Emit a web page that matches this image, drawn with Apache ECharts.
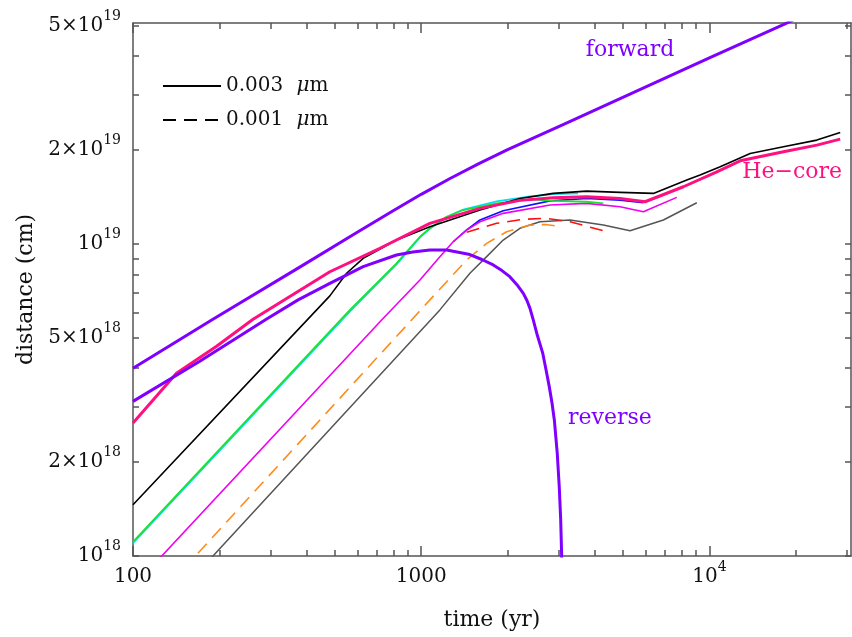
<!DOCTYPE html>
<html><head><meta charset="utf-8">
<script src="https://cdn.jsdelivr.net/npm/echarts@6/dist/echarts.min.js"></script>
<style>html,body{margin:0;padding:0;background:#fff}#c{width:852px;height:637px}</style>
</head><body><div id="c"></div>
<script>
// ---- axis ranges and ticks ----
const X_MIN = 100, X_MAX = 31000;
const Y_MIN = 1e18, Y_MAX = 5.11e19;
const timeTicks = [100, 1000, 10000];
const timeTickLabels = ['100', '1000', '{b|10}{s|4}'];
const timeMinor = [200,300,400,500,600,700,800,900,2000,3000,4000,5000,6000,7000,8000,9000,20000,30000];
const distTicks = [1e18, 2e18, 5e18, 1e19, 2e19, 5e19];
const distTickLabels = ['{b|10}{s|18}','{b|2×10}{s|18}','{b|5×10}{s|18}','{b|10}{s|19}','{b|2×10}{s|19}','{b|5×10}{s|19}'];
const distMinor = [3e18,4e18,6e18,7e18,8e18,9e18,3e19,4e19];
const legendNames = ['0.003 μm', '0.001 μm'];

// ---- series values: [time (yr), distance (cm)] ----
const forward = [[100,4.0e18],[190,5.75e18],[379,8.43e18],[600,1.09e19],[794,1.274e19],[1000,1.443e19],[1259,1.622e19],[1585,1.811e19],[1995,2.006e19],[3162,2.43e19],[10000,3.95e19],[18300,5.08e19],[21000,5.4e19]];
const reverse = [[100,3.13e18],[170,4.20e18],[290,5.74e18],[374,6.62e18],[482,7.48e18],[629,8.46e18],[821,9.22e18],[935,9.43e18],[1072,9.57e18],[1225,9.57e18],[1476,9.25e18],[1624,8.92e18],[1778,8.57e18],[1906,8.22e18],[2030,7.86e18],[2149,7.41e18],[2261,6.95e18],[2328,6.59e18],[2385,6.22e18],[2448,5.71e18],[2532,5.08e18],[2639,4.48e18],[2710,3.96e18],[2782,3.49e18],[2843,3.10e18],[2897,2.73e18],[2965,2.14e18],[3013,1.67e18],[3048,1.31e18],[3072,1.0e18],[3090,0.8e18]];
const heCore = [[100,2.67e18],[141.5,3.85e18],[195,4.7e18],[261,5.74e18],[482,8.15e18],[719,9.69e18],[1072,1.165e19],[1599,1.301e19],[2201,1.38e19],[2872,1.407e19],[3752,1.418e19],[4898,1.40e19],[5981,1.366e19],[8124,1.526e19],[10610,1.704e19],[12785,1.848e19],[18070,1.975e19],[23600,2.075e19],[28440,2.169e19]];
const blackLine = [[100,1.46e18],[482,6.82e18],[551,8.06e18],[629,9.0e18],[821,1.03e19],[1072,1.136e19],[1599,1.285e19],[2201,1.40e19],[2872,1.453e19],[3752,1.478e19],[4898,1.464e19],[6392,1.453e19],[8348,1.603e19],[9284,1.663e19],[10900,1.768e19],[13850,1.951e19],[18070,2.049e19],[23600,2.153e19],[28440,2.279e19]];
const greenLine = [[100,1.11e18],[566,6.15e18],[821,8.67e18],[990,1.055e19],[1072,1.123e19],[1225,1.223e19],[1399,1.285e19],[1827,1.35e19],[2385,1.39e19],[2872,1.375e19],[3752,1.366e19],[4285,1.35e19]];
const cyanLine = [[100,1.10e18],[566,6.08e18],[821,8.6e18],[990,1.05e19],[1072,1.12e19],[1225,1.22e19],[1399,1.29e19],[1827,1.37e19],[2385,1.42e19],[2872,1.445e19],[3501,1.453e19]];
const magentaLine = [[110,0.875e18],[729,5.71e18],[990,7.67e18],[1161,9.11e18],[1291,1.017e19],[1438,1.108e19],[1599,1.179e19],[1926,1.254e19],[2799,1.333e19],[3752,1.35e19],[4898,1.316e19],[5900,1.269e19],[7706,1.411e19]];
const blueLine = [[1291,1.017e19],[1438,1.11e19],[1599,1.194e19],[1926,1.278e19],[2799,1.375e19],[3752,1.40e19],[4898,1.383e19],[5900,1.356e19]];
const redDashed = [[1438,1.09e19],[1827,1.165e19],[2261,1.20e19],[2700,1.209e19],[3283,1.179e19],[4404,1.095e19]];
const orangeDashed = [[150,0.91e18],[1072,6.62e18],[1438,8.89e18],[1687,1.005e19],[1979,1.095e19],[2385,1.15e19],[2700,1.155e19],[3072,1.136e19]];
const grayLine = [[180,0.95e18],[1161,6.15e18],[1476,8.06e18],[1687,9.11e18],[1926,1.03e19],[2201,1.123e19],[2583,1.179e19],[3283,1.194e19],[4285,1.15e19],[5305,1.103e19],[6923,1.194e19],[9043,1.356e19]];

const annotations = [
  {text: 'forward', t: 5305, d: 4.18e19, color: '#7F00FF'},
  {text: 'He\u2212core', t: 19370, d: 1.704e19, color: '#FF1080'},
  {text: 'reverse', t: 4519, d: 2.77e18, color: '#7F00FF'}
];

// ---- styling ----
const F = 'DejaVu Serif';
const AX = {color: '#555', width: 1.5};
const TXT = '#111';
const DASH = [13, 8];
const lg = Math.log10;
const rich = {
  b: {fontFamily: F, fontSize: 20, color: TXT, verticalAlign: 'middle'},
  s: {fontFamily: F, fontSize: 14, color: TXT, padding: [0, 0, 20, 0], verticalAlign: 'middle'}
};
function pick(vals, labels) {
  return v => { const i = vals.findIndex(t => Math.abs(lg(t) - v) < 1e-6); return i >= 0 ? labels[i] : ''; };
}
function tickAxis(pos, min, max, ticks, len, showLine, extra) {
  return Object.assign({
    type: 'value', position: pos, min: min, max: max, offset: 0,
    axisLine: {show: showLine, onZero: false, lineStyle: AX},
    axisTick: {show: true, inside: true, length: len, customValues: ticks.map(lg), lineStyle: AX},
    axisLabel: {show: false}, splitLine: {show: false}, silent: true
  }, extra || {});
}
function line(name, data, color, width, dashed, z) {
  return {
    type: 'line', name: name, data: data, xAxisIndex: 0, yAxisIndex: 0,
    symbol: 'none', showSymbol: false, smooth: false,
    lineStyle: {color: color, width: width, type: dashed ? DASH : 'solid', join: 'round'},
    itemStyle: {color: color}, silent: true, z: z, clip: true
  };
}

const lx0 = lg(X_MIN), lx1 = lg(X_MAX), ly0 = lg(Y_MIN), ly1 = lg(Y_MAX);
const chart = echarts.init(document.getElementById('c'), null, {renderer: 'canvas'});
chart.setOption({
  animation: false,
  backgroundColor: '#fff',
  grid: {left: 133, top: 23, right: 1, bottom: 81, containLabel: false, outerBoundsMode: 'none'},
  legend: {
    data: legendNames, orient: 'vertical', left: 157, top: 69, itemWidth: 58, itemHeight: 14,
    itemGap: 10, selectedMode: false,
    itemStyle: {opacity: 0},
    formatter: n => n.replace('μ', '{i|μ}'),
    textStyle: {fontFamily: F, fontSize: 20, color: TXT, lineHeight: 24,
      rich: {i: {fontFamily: F, fontSize: 20, fontStyle: 'italic', color: TXT, padding: [0, 0, 0, 7]}}}
  },
  xAxis: [
    {type: 'log', logBase: 10, min: X_MIN, max: X_MAX, show: false},
    tickAxis('bottom', lx0, lx1, timeTicks, 10, true, {
      axisLabel: {show: true, customValues: timeTicks.map(lg), formatter: pick(timeTicks, timeTickLabels),
        margin: 21, verticalAlign: 'middle', fontFamily: F, fontSize: 20, color: TXT, rich: rich},
      name: 'time (yr)', nameLocation: 'middle', nameGap: 53,
      nameTextStyle: {fontFamily: F, fontSize: 22, color: TXT}
    }),
    tickAxis('bottom', lx0, lx1, timeMinor, 6, false),
    tickAxis('top', lx0, lx1, timeTicks, 10, true),
    tickAxis('top', lx0, lx1, timeMinor, 6, false)
  ],
  yAxis: [
    {type: 'log', logBase: 10, min: Y_MIN, max: Y_MAX, show: false},
    tickAxis('left', ly0, ly1, distTicks.concat(distMinor), 6, true, {
      axisLabel: {show: true, customValues: distTicks.map(lg), formatter: pick(distTicks, distTickLabels),
        margin: 12, fontFamily: F, fontSize: 20, color: TXT, rich: rich},
      name: 'distance (cm)', nameLocation: 'middle', nameGap: 96, nameRotate: 90,
      nameTextStyle: {fontFamily: F, fontSize: 22, color: TXT}
    }),
    tickAxis('right', ly0, ly1, distTicks.concat(distMinor), 6, true)
  ],
  series: [
    line(legendNames[0], [], '#000', 1.5, false, 1),
    line(legendNames[1], [], '#000', 1.5, true, 1),
    line('gray', grayLine, '#555555', 1.5, false, 2),
    line('orange', orangeDashed, '#FF8C1A', 1.6, true, 3),
    line('red', redDashed, '#FF1010', 1.6, true, 4),
    line('blue', blueLine, '#1010FF', 1.6, false, 5),
    line('magenta', magentaLine, '#F000F0', 1.6, false, 6),
    line('cyan', cyanLine, '#00E0F0', 1.8, false, 7),
    line('green', greenLine, '#20E030', 1.8, false, 8),
    line('black', blackLine, '#000000', 1.6, false, 9),
    line('He-core', heCore, '#FF1080', 3, false, 10),
    line('reverse', reverse, '#7F00FF', 3, false, 11),
    line('forward', forward, '#7F00FF', 3, false, 12)
  ]
});
chart.setOption({
  graphic: annotations.map(a => {
    const p = chart.convertToPixel({xAxisIndex: 0, yAxisIndex: 0}, [a.t, a.d]);
    return {type: 'text', x: p[0], y: p[1], silent: true, z: 20,
      style: {text: a.text, fill: a.color, fontFamily: F, fontSize: 22, align: 'center', verticalAlign: 'middle'}};
  })
});
</script></body></html>
